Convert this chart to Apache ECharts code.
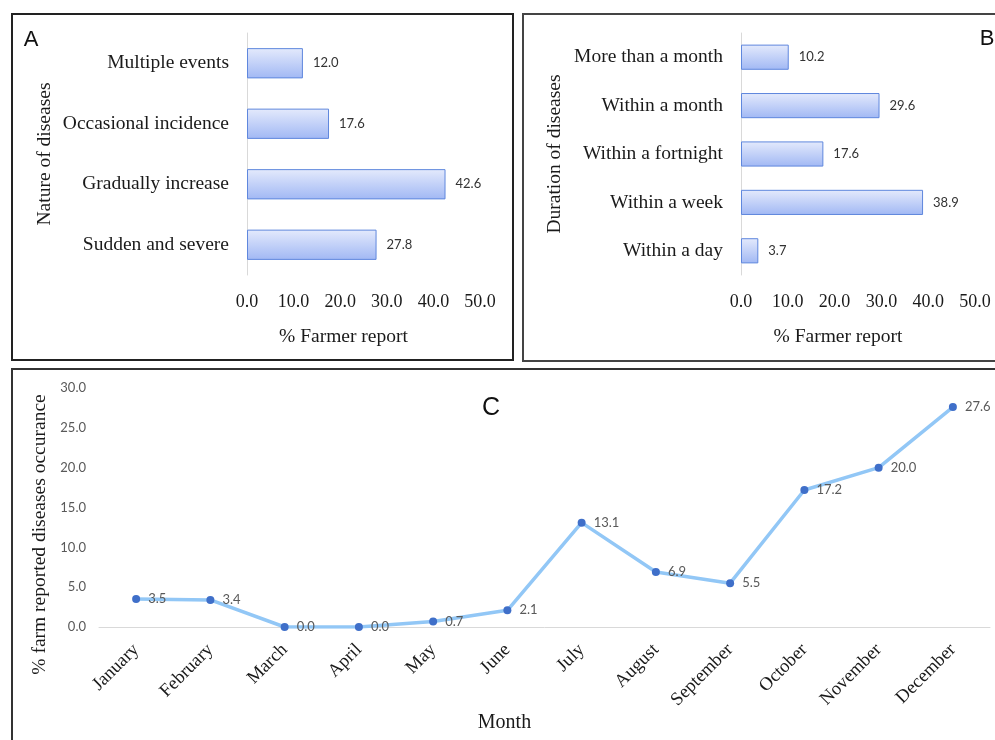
<!DOCTYPE html>
<html>
<head>
<meta charset="utf-8">
<script src="https://cdn.jsdelivr.net/npm/echarts@6/dist/echarts.min.js"></script>
<style>
  html, body { margin: 0; padding: 0; background: #fff; }
  #chart { width: 995px; height: 740px; }
</style>
</head>
<body>
<div id="chart"></div>
<script>
// panel A
var natureCats = ['Multiple events', 'Occasional incidence', 'Gradually increase', 'Sudden and severe'];
var natureVals = [12.0, 17.6, 42.6, 27.8];
// panel B
var durationCats = ['More than a month', 'Within a month', 'Within a fortnight', 'Within a week', 'Within a day'];
var durationVals = [10.2, 29.6, 17.6, 38.9, 3.7];
// panel C
var months = ['January', 'February', 'March', 'April', 'May', 'June', 'July', 'August', 'September', 'October', 'November', 'December'];
var monthVals = [3.5, 3.4, 0.0, 0.0, 0.7, 2.1, 13.1, 6.9, 5.5, 17.2, 20.0, 27.6];

var serif = '"Liberation Serif", serif';
var sans = 'Lato, "Liberation Sans", sans-serif';

var barStyle = {
    color: new echarts.graphic.LinearGradient(0, 0, 0, 1, [
        {offset: 0, color: '#e4eafc'},
        {offset: 1, color: '#a1b8f4'}
    ]),
    borderColor: '#5f87dd',
    borderWidth: 1
};

function fmt1(v) { return Number(v).toFixed(1); }

function valueAxis(idx) {
    return {
        type: 'value', gridIndex: idx, min: 0, max: 50, interval: 10,
        name: '% Farmer report', nameLocation: 'middle', nameGap: 52,
        // excel put the title a bit left of the axis centre
        nameTextStyle: {fontFamily: serif, fontSize: 19.5, color: '#1a1a1a', padding: [0, 40, 0, 0]},
        axisLine: {show: false}, axisTick: {show: false}, splitLine: {show: false},
        axisLabel: {formatter: fmt1, fontFamily: serif, fontSize: 18, color: '#1a1a1a', margin: 18}
    };
}

function catAxis(idx, cats, name) {
    return {
        type: 'category', gridIndex: idx, data: cats, inverse: true,
        name: name, nameLocation: 'middle', nameRotate: 90,
        nameTextStyle: {fontFamily: serif, fontSize: 19.5, color: '#1a1a1a'},
        axisLine: {show: true, lineStyle: {color: '#d9d9d9', width: 1}},
        axisTick: {show: false},
        axisLabel: {fontFamily: serif, fontSize: 19.5, color: '#1a1a1a', margin: 18}
    };
}

var chart = echarts.init(document.getElementById('chart'));

var yA = catAxis(0, natureCats, 'Nature of diseases');
yA.nameGap = 192;
var yB = catAxis(1, durationCats, 'Duration of diseases');
yB.nameGap = 176;

var option = {
    animation: false,
    backgroundColor: '#fff',
    grid: [
        {left: 247, top: 33, width: 233, height: 242},
        {left: 741, top: 33, width: 234, height: 242},
        {left: 99, top: 388, width: 891, height: 239}
    ],
    xAxis: [
        valueAxis(0),
        valueAxis(1),
        {
            type: 'category', gridIndex: 2, data: months, boundaryGap: true,
            name: 'Month', nameLocation: 'middle', nameGap: 77,
            nameTextStyle: {fontFamily: serif, fontSize: 20, color: '#1a1a1a', padding: [0, 80, 0, 0]},
            axisLine: {lineStyle: {color: '#d9d9d9', width: 1}},
            axisTick: {show: false},
            axisLabel: {rotate: 45, interval: 0, fontFamily: serif, fontSize: 18.5, color: '#1a1a1a', margin: 20}
        }
    ],
    yAxis: [
        yA,
        yB,
        {
            type: 'value', gridIndex: 2, min: 0, max: 30, interval: 5,
            name: '% farm reported diseases occurance', nameLocation: 'middle', nameRotate: 90, nameGap: 44,
            nameTextStyle: {fontFamily: serif, fontSize: 19.5, color: '#1a1a1a', padding: [0, 54, 0, 0]},
            axisLine: {show: false}, axisTick: {show: false}, splitLine: {show: false},
            axisLabel: {formatter: fmt1, fontFamily: sans, fontSize: 13, color: '#595959', margin: 13}
        }
    ],
    series: [
        {
            type: 'bar', xAxisIndex: 0, yAxisIndex: 0, data: natureVals, barWidth: '50%',
            itemStyle: barStyle,
            label: {show: true, position: 'right', distance: 10, formatter: function (p) { return fmt1(p.value); },
                fontFamily: sans, fontSize: 13, color: '#333'}
        },
        {
            type: 'bar', xAxisIndex: 1, yAxisIndex: 1, data: durationVals, barWidth: '52%',
            itemStyle: barStyle,
            label: {show: true, position: 'right', distance: 10, formatter: function (p) { return fmt1(p.value); },
                fontFamily: sans, fontSize: 13, color: '#333'}
        },
        {
            type: 'line', xAxisIndex: 2, yAxisIndex: 2, data: monthVals,
            lineStyle: {color: '#92c7f6', width: 3.5},
            symbol: 'circle', symbolSize: 8,
            itemStyle: {color: '#3f6fc9'},
            label: {show: true, position: 'right', distance: 8, formatter: function (p) { return fmt1(p.value); },
                fontFamily: sans, fontSize: 13, color: '#595959'}
        }
    ],
    graphic: [
        {type: 'rect', shape: {x: 12, y: 14, width: 501, height: 346}, style: {fill: 'none', stroke: '#222', lineWidth: 2}, silent: true},
        {type: 'rect', shape: {x: 523, y: 14, width: 490, height: 347}, style: {fill: 'none', stroke: '#444', lineWidth: 2}, silent: true},
        {type: 'rect', shape: {x: 12, y: 369, width: 1000, height: 400}, style: {fill: 'none', stroke: '#333', lineWidth: 2}, silent: true},
        {type: 'text', x: 31, y: 40, style: {text: 'A', font: '22px "Liberation Sans", sans-serif', fill: '#111', textAlign: 'center', textVerticalAlign: 'middle'}},
        {type: 'text', x: 987, y: 39, style: {text: 'B', font: '22px "Liberation Sans", sans-serif', fill: '#111', textAlign: 'center', textVerticalAlign: 'middle'}},
        {type: 'text', x: 491, y: 408, style: {text: 'C', font: '25px "Liberation Sans", sans-serif', fill: '#111', textAlign: 'center', textVerticalAlign: 'middle'}}
    ]
};

chart.setOption(option);
</script>
</body>
</html>
